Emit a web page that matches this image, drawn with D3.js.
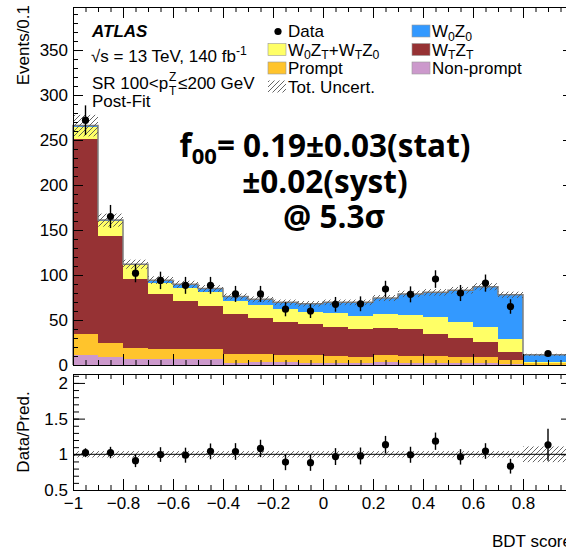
<!DOCTYPE html>
<html>
<head>
<meta charset="utf-8">
<script src="https://cdn.jsdelivr.net/npm/d3@7"></script>
<style>
body { margin: 0; background: #fff; }
svg  { display: block; font-family: "Liberation Sans", Arial, sans-serif; }
</style>
</head>
<body>
<svg id="chart" width="566" height="548"></svg>
<script>
// bin edges of the BDT score histogram (last bin is 0.8-1.0, shown per 0.1)
var binEdges  = [-1, -0.9, -0.8, -0.7, -0.6, -0.5, -0.4, -0.3, -0.2, -0.1, 0, 0.1, 0.2, 0.3, 0.4, 0.5, 0.6, 0.7, 0.8, 1.0];

// stacked backgrounds/signals, bottom to top (Events/0.1)
var nonPrompt = [11, 8.5, 7, 7, 7, 7, 2.6, 2.9, 3, 2.5, 2.6, 2.5, 3, 2.5, 2.5, 2, 2, 1, 0.5];
var prompt    = [23, 15.5, 11.5, 10.4, 11, 10.4, 9.4, 9.7, 8.5, 8.2, 7.8, 6.8, 8.5, 7.5, 7.9, 7, 6.5, 4.5, 1.5];
var wTzT      = [217, 119, 77, 61, 53, 48.6, 44.7, 40, 36.3, 34.8, 32.2, 31.1, 29.5, 29.6, 24.6, 21.4, 17, 9.3, 0.5];
var w0zT      = [14, 17, 15.5, 13, 15, 15, 14, 14.4, 14.2, 13.5, 14.8, 14.6, 16, 16.4, 18, 17.6, 17.1, 13.7, 1.2];
var w0z0      = [1, 1, 1, 2.9, 3.6, 4, 5.3, 6, 7.6, 9, 12.2, 14.6, 17.4, 23, 27.7, 35, 44.4, 49.5, 7.6];

var dataCounts = [272, 165, 102, 94, 88.5, 88.5, 79, 79, 62, 60, 67.4, 68, 84.4, 78.5, 95.5, 80, 91, 65, 12.8];
var relUnc     = [0.045, 0.045, 0.045, 0.045, 0.045, 0.045, 0.045, 0.045, 0.045, 0.045, 0.045, 0.045, 0.045, 0.045, 0.045, 0.045, 0.045, 0.045, 0.11];

var xMajorTicks  = [-1, -0.8, -0.6, -0.4, -0.2, 0, 0.2, 0.4, 0.6, 0.8, 1];
var xTickLabels  = [-1, -0.8, -0.6, -0.4, -0.2, 0, 0.2, 0.4, 0.6, 0.8];
var yMainTicks   = [0, 50, 100, 150, 200, 250, 300, 350];
var yRatioTicks  = [0.5, 1, 1.5, 2];

var colors = {
    np: "#cc99cc",
    pr: "#ffc42c",
    tt: "#963234",
    lt: "#ffff66",
    ll: "#3399ff"
};

var svg = d3.select("#chart");

var x  = d3.scaleLinear().domain([-1, 1]).range([73, 573]);
var y  = d3.scaleLinear().domain([0, 397.8]).range([365, 7]);
var yr = d3.scaleLinear().domain([0.5, 2.125]).range([490, 374]);

svg.append("defs")
   .append("pattern")
   .attr("id", "hatch")
   .attr("patternUnits", "userSpaceOnUse")
   .attr("width", 5)
   .attr("height", 5)
   .append("path")
   .attr("d", "M-1,1 l2,-2 M0,5 l5,-5 M4,6 l2,-2")
   .attr("stroke", "#555")
   .attr("stroke-width", 0.9);

var table = binEdges.slice(0, -1).map((lo, i) => ({
    lo: lo, hi: binEdges[i + 1],
    np: nonPrompt[i], pr: prompt[i], tt: wTzT[i], lt: w0zT[i], ll: w0z0[i],
    data: dataCounts[i], unc: relUnc[i]
}));
table.forEach(d => {
    d.total = d.np + d.pr + d.tt + d.lt + d.ll;
    // Poisson error on the raw count, then scaled back to Events/0.1
    var k = Math.round((d.hi - d.lo) / 0.1);
    d.err = Math.sqrt(d.data * k) / k;
});

var series = d3.stack().keys(["np", "pr", "tt", "lt", "ll"])(table);

// ---------- main panel ----------
svg.append("g")
   .selectAll("g")
   .data(series)
   .enter()
   .append("g")
   .attr("fill", d => colors[d.key])
   .attr("shape-rendering", "crispEdges")
   .selectAll("rect")
   .data(d => d)
   .enter()
   .append("rect")
   .attr("x", d => x(d.data.lo))
   .attr("width", d => x(d.data.hi) - x(d.data.lo))
   .attr("y", d => y(d[1]))
   .attr("height", d => y(d[0]) - y(d[1]));

var outline = [[table[0].lo, 0]];
table.forEach(d => { outline.push([d.lo, d.total]); outline.push([d.hi, d.total]); });
outline.push([table[table.length - 1].hi, 0]);

svg.append("path")
   .attr("d", d3.line().x(d => x(d[0])).y(d => y(d[1]))(outline))
   .attr("fill", "none")
   .attr("stroke", "#808080")
   .attr("stroke-width", 1.5);

svg.append("g")
   .selectAll("rect")
   .data(table)
   .enter()
   .append("rect")
   .attr("x", d => x(d.lo))
   .attr("width", d => x(d.hi) - x(d.lo))
   .attr("y", d => y(d.total * (1 + d.unc)))
   .attr("height", d => y(d.total * (1 - d.unc)) - y(d.total * (1 + d.unc)))
   .attr("fill", "url(#hatch)");

var pts = svg.append("g");
pts.selectAll("line")
   .data(table)
   .enter()
   .append("line")
   .attr("x1", d => x((d.lo + d.hi) / 2))
   .attr("x2", d => x((d.lo + d.hi) / 2))
   .attr("y1", d => y(d.data + d.err))
   .attr("y2", d => y(d.data - d.err))
   .attr("stroke", "#000")
   .attr("stroke-width", 1.4);
pts.selectAll("circle")
   .data(table)
   .enter()
   .append("circle")
   .attr("cx", d => x((d.lo + d.hi) / 2))
   .attr("cy", d => y(d.data))
   .attr("r", 3.6)
   .attr("fill", "#000");

// ---------- ratio panel ----------
svg.append("g")
   .selectAll("rect")
   .data(table)
   .enter()
   .append("rect")
   .attr("x", d => x(d.lo))
   .attr("width", d => x(d.hi) - x(d.lo))
   .attr("y", d => yr(1 + d.unc))
   .attr("height", d => yr(1 - d.unc) - yr(1 + d.unc))
   .attr("fill", "url(#hatch)");

svg.append("line")
   .attr("x1", x(-1)).attr("x2", x(1))
   .attr("y1", yr(1)).attr("y2", yr(1))
   .attr("stroke", "#000")
   .attr("stroke-width", 1);

var rpts = svg.append("g");
rpts.selectAll("line")
    .data(table)
    .enter()
    .append("line")
    .attr("x1", d => x((d.lo + d.hi) / 2))
    .attr("x2", d => x((d.lo + d.hi) / 2))
    .attr("y1", d => yr((d.data + d.err) / d.total))
    .attr("y2", d => yr((d.data - d.err) / d.total))
    .attr("stroke", "#000")
    .attr("stroke-width", 1.4);
rpts.selectAll("circle")
    .data(table)
    .enter()
    .append("circle")
    .attr("cx", d => x((d.lo + d.hi) / 2))
    .attr("cy", d => yr(d.data / d.total))
    .attr("r", 3.6)
    .attr("fill", "#000");

// ---------- axes (ROOT style, ticks inward on every side) ----------
function styleAxis(g) {
    g.attr("font-size", 17)
     .attr("font-family", "Liberation Sans, Arial, sans-serif");
    g.selectAll("path.domain").attr("stroke", "#000").attr("stroke-width", 1);
    g.selectAll("text").attr("fill", "#000");
}

function panelAxes(ys, top, bottom, yMajor, yMinor, majLen, minLen, showX) {
    var xMinor = d3.range(-20, 21, 1).map(v => v * 0.05);

    [[bottom, d3.axisBottom], [top, d3.axisTop]].forEach(p => {
        svg.append("g")
           .attr("transform", "translate(0," + p[0] + ")")
           .call(p[1](x).tickValues(xMinor).tickSize(-5).tickSizeOuter(0).tickFormat(""))
           .call(styleAxis);
        svg.append("g")
           .attr("transform", "translate(0," + p[0] + ")")
           .call(p[1](x).tickValues(xMajorTicks).tickSize(-11).tickSizeOuter(0).tickFormat(""))
           .call(styleAxis);
        if (showX && p[0] === bottom) {
            svg.append("g")
               .attr("transform", "translate(0," + p[0] + ")")
               .call(p[1](x).tickValues(xTickLabels).tickSize(0).tickSizeOuter(0)
                     .tickPadding(7).tickFormat(d3.format("")))
               .call(styleAxis)
               .call(g => g.select("path.domain").remove());
        }
    });

    [[x(-1), d3.axisLeft], [x(1), d3.axisRight]].forEach(p => {
        svg.append("g")
           .attr("transform", "translate(" + p[0] + ",0)")
           .call(p[1](ys).tickValues(yMinor).tickSize(-minLen).tickSizeOuter(0).tickFormat(""))
           .call(styleAxis);
        svg.append("g")
           .attr("transform", "translate(" + p[0] + ",0)")
           .call(p[1](ys).tickValues(yMajor).tickSize(-majLen).tickSizeOuter(0)
                 .tickPadding(5)
                 .tickFormat(p[0] === x(-1) ? d3.format("") : ""))
           .call(styleAxis);
    });
}

panelAxes(y, 7, 365, yMainTicks, d3.range(0, 391, 10), 10, 5, false);
panelAxes(yr, 374, 490, yRatioTicks, d3.range(5, 22, 1).map(v => v / 10), 12, 6, true);

// axis titles
svg.append("text")
   .attr("transform", "translate(29,5) rotate(-90)")
   .attr("text-anchor", "end")
   .attr("font-size", 17)
   .text("Events/0.1");

svg.append("text")
   .attr("transform", "translate(29,432) rotate(-90)")
   .attr("text-anchor", "middle")
   .attr("font-size", 17)
   .text("Data/Pred.");

svg.append("text")
   .attr("x", 572)
   .attr("y", 547)
   .attr("text-anchor", "end")
   .attr("font-size", 17)
   .text("BDT score");

// ---------- labels ----------
function richText(t, parts, size) {
    var cur = 0;
    parts.forEach(p => {
        var off = p[1] === "sub" ? 3.5 : (p[1] === "sup" ? -7 : 0);
        t.append("tspan")
         .attr("dy", off - cur)
         .attr("font-size", p[1] ? size * 0.72 : size)
         .text(p[0]);
        cur = off;
    });
    return t;
}

svg.append("text")
   .attr("x", 92).attr("y", 37)
   .attr("font-size", 17)
   .attr("font-weight", "bold")
   .attr("font-style", "italic")
   .text("ATLAS");

richText(svg.append("text").attr("x", 91).attr("y", 62).attr("font-size", 17),
         [["\u221As = 13 TeV, 140 fb"], ["-1", "sup"]], 17);

var sr = svg.append("text").attr("x", 92).attr("y", 89).attr("font-size", 17).text("SR 100<p");
var srW = sr.node().getComputedTextLength();
svg.append("text").attr("x", 92 + srW + 1).attr("y", 81).attr("font-size", 12).text("Z");
svg.append("text").attr("x", 92 + srW + 1).attr("y", 95).attr("font-size", 12).text("T");
svg.append("text").attr("x", 92 + srW + 10).attr("y", 89).attr("font-size", 17).text("\u2264200 GeV");

svg.append("text")
   .attr("x", 92).attr("y", 107)
   .attr("font-size", 17)
   .text("Post-Fit");

// legend
var rowY = [37, 55.5, 74, 92.5];

svg.append("circle").attr("cx", 278).attr("cy", rowY[0] - 5.5).attr("r", 3.6).attr("fill", "#000");
richText(svg.append("text").attr("x", 288).attr("y", rowY[0]).attr("font-size", 17), [["Data"]], 17);

var legendBoxes = [
    [268, rowY[1], colors.lt, [["W"], ["0", "sub"], ["Z"], ["T", "sub"], ["+W"], ["T", "sub"], ["Z"], ["0", "sub"]]],
    [268, rowY[2], colors.pr, [["Prompt"]]],
    [268, rowY[3], "url(#hatch)", [["Tot. Uncert."]]],
    [412, rowY[0], colors.ll, [["W"], ["0", "sub"], ["Z"], ["0", "sub"]]],
    [412, rowY[1], colors.tt, [["W"], ["T", "sub"], ["Z"], ["T", "sub"]]],
    [412, rowY[2], colors.np, [["Non-prompt"]]]
];

legendBoxes.forEach(b => {
    svg.append("rect")
       .attr("x", b[0]).attr("y", b[1] - 12)
       .attr("width", 18).attr("height", 12)
       .attr("fill", b[2])
       .attr("stroke", b[2] === "url(#hatch)" ? "none" : "#999")
       .attr("stroke-width", 0.6);
    richText(svg.append("text").attr("x", b[0] + 20).attr("y", b[1]).attr("font-size", 17), b[3], 17);
});

// fit result
var big = svg.append("g")
             .attr("font-family", "Open Sans, sans-serif")
             .attr("font-weight", "bold")
             .attr("text-anchor", "middle");

var l1 = big.append("text").attr("x", 325).attr("y", 157).attr("font-size", 31.5);
l1.append("tspan").text("f");
l1.append("tspan").attr("dy", 7).attr("font-size", 22).text("00");
l1.append("tspan").attr("dy", -7).text("= 0.19\u00B10.03(stat)");

big.append("text").attr("x", 325).attr("y", 193).attr("font-size", 31.5).text("\u00B10.02(syst)");
big.append("text").attr("x", 334).attr("y", 228).attr("font-size", 31.5).text("@ 5.3\u03C3");
</script>
</body>
</html>
